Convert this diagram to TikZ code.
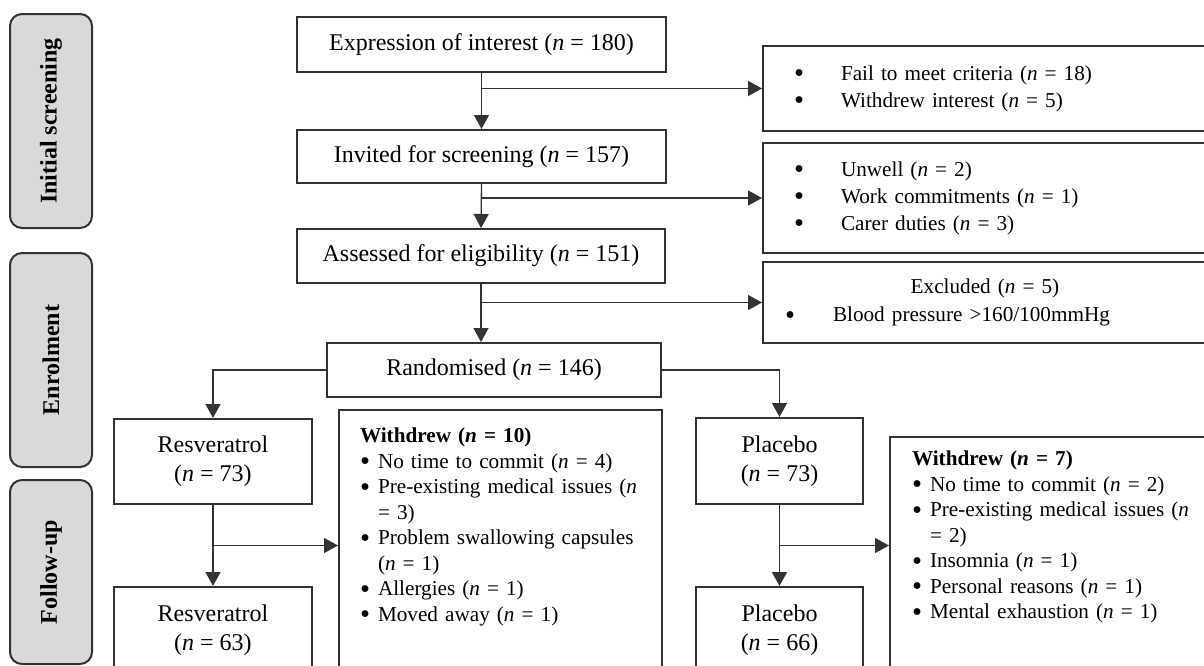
\documentclass[tikz,border=0pt]{standalone}
\usepackage{fontspec}
\usepackage{graphicx}
\setmainfont{Liberation Serif}
\usetikzlibrary{arrows.meta,calc}

\newcommand{\nn}{\textit{n}}
\newcommand{\mainsize}{\fontsize{12pt}{14.5pt}\selectfont}
\newcommand{\sidesize}{\fontsize{10.6pt}{12.75pt}\selectfont}
\newcommand{\bigbul}{\raisebox{-0.12em}{\scalebox{1.35}{\textbullet}}}
\newcommand{\wbul}{\makebox[9pt][l]{\bigbul}}
\newcommand{\xbul}{\makebox[23.5pt][l]{\bigbul}}

\begin{document}
\begin{tikzpicture}[
    x=0.5pt, y=-0.5pt,
    stagebox/.style={draw=black!80, fill=black!15, line width=1pt, rounded corners=6pt, rotate=90,
                     minimum width=107pt, minimum height=41pt, font=\mainsize\bfseries},
    flowbox/.style={draw=black!80, line width=1pt, align=center, font=\mainsize, inner sep=0pt},
    sidebox/.style={draw=black!80, line width=1pt, align=left, anchor=west, text width=200pt},
    wdbox/.style={draw=black!80, line width=1pt, align=left, anchor=north west, font=\sidesize, text depth=150pt},
    arrow/.style={-{Triangle[length=7pt,width=7.5pt]}, line width=0.65pt, draw=black!80},
]
\useasboundingbox (0,0) rectangle (1204,665);
\clip (0,0) rectangle (1204,665);

% Stages
\node[stagebox] (screen) at (51,121) {Initial screening};
\node[stagebox] (enrol) at (51,360) {Enrolment};
\node[stagebox, minimum width=92pt] (follow) at (51,572) {Follow-up};

% Screening
\node[flowbox, minimum width=184.5pt, minimum height=27.5pt] (expr) at (481.5,44.5) {Expression of interest (\nn{} = 180)};
\node[flowbox, minimum width=184.5pt, minimum height=26.5pt] (invit) at (481.5,156.5) {Invited for screening (\nn{} = 157)};
\node[flowbox, minimum width=184pt, minimum height=27pt] (assess) at (481,256) {Assessed for eligibility (\nn{} = 151)};

\node[sidebox, font=\fontsize{10.6pt}{13.5pt}\selectfont, minimum height=42.5pt, inner xsep=15.5pt] (excl1) at (762,88.5)
  {\xbul Fail to meet criteria (\nn{} = 18)\\ \xbul Withdrew interest (\nn{} = 5)};
\node[sidebox, font=\fontsize{10.6pt}{13.5pt}\selectfont, minimum height=55pt, inner xsep=15.5pt] (excl2) at (762,198)
  {\xbul Unwell (\nn{} = 2)\\ \xbul Work commitments (\nn{} = 1)\\ \xbul Carer duties (\nn{} = 3)};
\node[sidebox, font=\fontsize{10.6pt}{14pt}\selectfont, minimum height=40.5pt, inner xsep=11pt] (excl3) at (762,302.5)
  {\makebox[\linewidth]{Excluded (\nn{} = 5)}\\ \makebox[24pt][l]{\bigbul}Blood pressure >160/100mmHg};

\draw[arrow] (expr.south) -- (invit.north);
\draw[arrow] (expr.south |- excl1.west) -- (excl1.west);
\draw[arrow] (invit.south) -- (assess.north);
\draw[arrow] (invit.south |- excl2.west) -- (excl2.west);
\draw[arrow] (assess.south |- excl3.west) -- (excl3.west);

% Enrolment
\node[flowbox, minimum width=167pt, minimum height=27pt] (rand) at (494,370) {Randomised (\nn{} = 146)};
\node[flowbox, minimum width=99pt, minimum height=42.5pt] (resA) at (213,461.5) {Resveratrol\\(\nn{} = 73)};
\node[flowbox, minimum width=83.5pt, minimum height=43pt] (placA) at (779.5,461) {Placebo\\(\nn{} = 73)};
\draw[arrow] (assess.south) -- (assess.south |- rand.north);
\draw[arrow] (rand.west) -| (resA.north);
\draw[arrow] (rand.east) -| (placA.north);

% Follow-up
\node[flowbox, minimum width=99pt, minimum height=43pt] (resB) at (213,630) {Resveratrol\\(\nn{} = 63)};
\node[flowbox, minimum width=83.5pt, minimum height=43pt] (placB) at (779.5,630) {Placebo\\(\nn{} = 66)};

\node[wdbox, inner xsep=10.5pt, inner ysep=9pt, text width=140.5pt] (wdA) at (338,409)
  {\textbf{Withdrew (\nn{} = 10)}\\
   \wbul No time to commit (\nn{} = 4)\\
   \wbul Pre-existing medical issues (\nn\\
   \hspace*{9pt}= 3)\\
   \wbul Problem swallowing capsules\\
   \hspace*{9pt}(\nn{} = 1)\\
   \wbul Allergies (\nn{} = 1)\\
   \wbul Moved away (\nn{} = 1)};
\node[wdbox, inner xsep=11pt, inner ysep=7pt, text width=150pt] (wdB) at (889,436)
  {\textbf{Withdrew (\nn{} = 7)}\\
   \wbul No time to commit (\nn{} = 2)\\
   \wbul Pre-existing medical issues (\nn\\
   \hspace*{9pt}= 2)\\
   \wbul Insomnia (\nn{} = 1)\\
   \wbul Personal reasons (\nn{} = 1)\\
   \wbul Mental exhaustion (\nn{} = 1)};

\draw[arrow] (resA.south) -- (resB.north);
\draw[arrow] (placA.south) -- (placB.north);
\coordinate (splitA) at ($(resA.south)!0.5!(resB.north)$);
\coordinate (splitB) at ($(placA.south)!0.5!(placB.north)$);
\draw[arrow] (splitA) -- (splitA -| wdA.west);
\draw[arrow] (splitB) -- (splitB -| wdB.west);

\end{tikzpicture}
\end{document}
